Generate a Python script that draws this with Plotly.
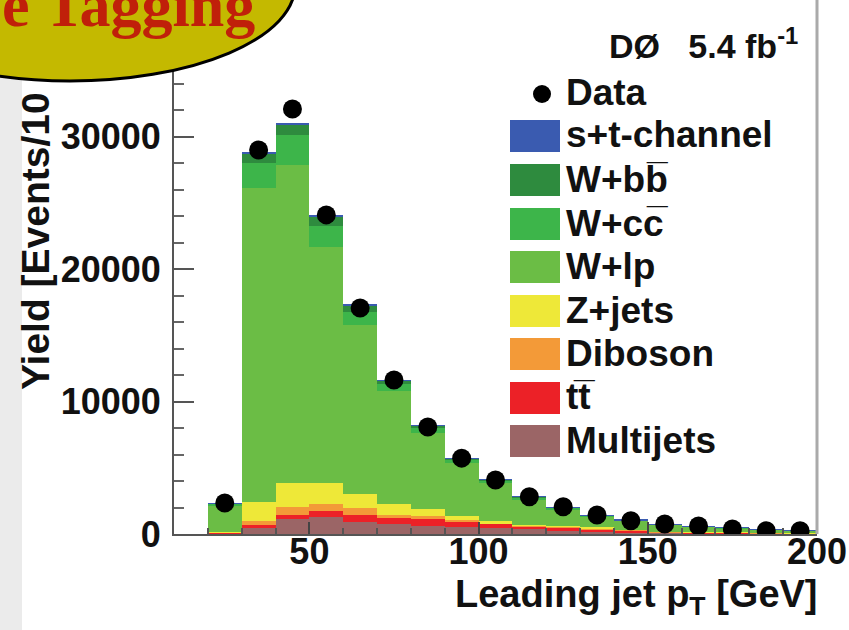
import plotly.graph_objects as go

# ---------------- data ----------------
bin_low = list(range(20, 200, 10))          # 10 GeV bins, 20..200
bin_centers = [b + 5 for b in bin_low]

data_yield = [2340, 29000, 32100, 24100, 17070, 11630, 8080, 5730, 4080,
              2820, 2060, 1435, 1000, 755, 600, 380, 250, 250]

multijets = [60, 430, 1110, 1300, 930, 730, 600, 550, 430, 355, 250, 175, 130, 90, 70, 55, 40, 30]
ttbar     = [20, 250, 325, 430, 505, 470, 585, 380, 325, 245, 250, 200, 120, 60, 50, 40, 30, 20]
diboson   = [30, 325, 627, 530, 505, 235, 150, 100, 75, 40, 30, 60, 60, 20, 15, 12, 10, 8]
zjets     = [60, 1435, 1813, 1610, 1080, 830, 530, 300, 130, 60, 40, 100, 20, 15, 10, 8, 5, 4]
wlp       = [2000, 23690, 23995, 17830, 12780, 8500, 5800, 4020, 2910, 1935, 1315, 820, 666, 520, 415, 333, 242, 172]
wcc       = [100, 1890, 2270, 1590, 1000, 560, 380, 260, 190, 125, 85, 55, 44, 34, 27, 22, 16, 11]
wbb       = [40, 680, 750, 680, 450, 230, 135, 95, 65, 45, 30, 18, 15, 12, 10, 8, 5, 4]
st_chan   = [20, 150, 150, 160, 120, 75, 50, 35, 25, 15, 10, 7, 5, 4, 3, 2, 2, 1]

x_tick_vals = [50, 100, 150, 200]
y_tick_vals = [0, 10000, 20000, 30000]
y_tick_text = ["0", "10000", "20000", "30000"]

series = [  # bottom -> top
    ("Multijets", multijets, "#9B6566"),
    ("t\u0074\u0305", ttbar, "#EC2127"),
    ("Diboson", diboson, "#F39A38"),
    ("Z+jets", zjets, "#EEE838"),
    ("W+lp", wlp, "#6BBD45"),
    ("W+c\u0063\u0305", wcc, "#3DB54A"),
    ("W+b\u0062\u0305", wbb, "#2E8B3E"),
    ("s+t-channel", st_chan, "#3A5BB0"),
]

# ---------------- geometry helpers (pixel -> paper) ----------------
W, H = 849, 630
L, R, T, B = 174, 32, 0, 96
PW, PH = W - L - R, H - T - B


def px(x):
    return (x - L) / PW


def py(y):
    return (H - B - y) / PH


fig = go.Figure()
for name, vals, col in series:
    fig.add_trace(go.Bar(x=bin_centers, y=vals, width=10, name=name,
                         marker=dict(color=col, line=dict(width=0)),
                         showlegend=False))
fig.add_trace(go.Scatter(x=bin_centers, y=data_yield, mode="markers", name="Data",
                         marker=dict(color="black", size=19), showlegend=False))

font_family = "Liberation Sans, Arial, sans-serif"

fig.update_layout(
    template="none",
    width=W, height=H,
    margin=dict(l=L, r=R, t=T, b=B, pad=0),
    barmode="stack",
    paper_bgcolor="white", plot_bgcolor="white",
    xaxis=dict(range=[10, 200], tickvals=x_tick_vals, ticks="inside", ticklen=12,
               tickwidth=2, tickcolor="#444", showline=True, linecolor="#555",
               linewidth=2, showgrid=False, zeroline=False, automargin=False,
               minor=dict(dtick=10, tick0=0, ticks="inside", ticklen=6, tickcolor="#555", tickwidth=1.5),
               tickfont=dict(family=font_family, size=36, color="#111", weight="bold"),
               ticklabelstandoff=-15),
    yaxis=dict(range=[0, 40330], tickvals=y_tick_vals, ticktext=y_tick_text,
               ticks="inside", ticklen=20, tickwidth=2, tickcolor="#555",
               showline=True, linecolor="#555", linewidth=2, showgrid=False,
               zeroline=False, automargin=False,
               minor=dict(dtick=2000, ticks="inside", ticklen=10, tickcolor="#666", tickwidth=2),
               tickfont=dict(family=font_family, size=36, color="#111", weight="bold"),
               ticklabelstandoff=4),
)

shapes = []
annotations = []

# grey slide strip at left
shapes.append(dict(type="rect", xref="paper", yref="paper", x0=px(0), x1=px(22),
                   y0=py(H), y1=py(0), fillcolor="#EBEBEB", line=dict(width=0), layer="below"))
# right frame line
shapes.append(dict(type="line", xref="paper", yref="paper", x0=1, x1=1, y0=0, y1=1,
                   line=dict(color="#AAAAAA", width=3), layer="above"))

# axis titles
annotations.append(dict(text="Leading jet p<sub>T</sub> [GeV]", xref="paper", yref="paper",
                        x=px(820), y=py(597), xanchor="right", yanchor="middle", showarrow=False,
                        font=dict(family=font_family, size=38, color="#111", weight="bold")))
annotations.append(dict(text="Yield [Events/10", xref="paper", yref="paper", textangle=-90,
                        x=px(35), y=py(392), xanchor="center", yanchor="bottom", showarrow=False,
                        font=dict(family=font_family, size=39, color="#111", weight="bold")))

# experiment label
annotations.append(dict(text="DØ\u00a0\u00a0 5.4 fb<sup>-1</sup>", xref="paper", yref="paper",
                        x=px(800), y=py(44), xanchor="right", yanchor="middle", showarrow=False,
                        font=dict(family=font_family, size=34, color="#111", weight="bold")))

# manual legend
legend_rows = [("Data", None, 94)] + [(n, c, yc) for (n, v, c), yc in
                                      zip(series[::-1], [136, 180, 224, 267, 311, 354, 398, 441])]
for name, col, yc in legend_rows:
    if col is None:
        shapes.append(dict(type="circle", xref="paper", yref="paper",
                           x0=px(533), x1=px(551), y0=py(yc + 9), y1=py(yc - 9),
                           fillcolor="black", line=dict(width=0), layer="above"))
    else:
        shapes.append(dict(type="rect", xref="paper", yref="paper",
                           x0=px(510), x1=px(560), y0=py(yc + 16), y1=py(yc - 16),
                           fillcolor=col, line=dict(width=0), layer="above"))
    annotations.append(dict(text=name, xref="paper", yref="paper", x=px(564), y=py(yc - 1),
                            xanchor="left", yanchor="middle", showarrow=False,
                            font=dict(family=font_family, size=37, color="#111", weight="bold")))

# title balloon (slide overlay)
shapes.append(dict(type="circle", xref="paper", yref="paper",
                   x0=px(-155), x1=px(295), y0=py(-110), y1=py(81),
                   fillcolor="#C4B900", line=dict(color="black", width=3), layer="above"))
annotations.append(dict(text="e Tagging", xref="paper", yref="paper", x=px(257), y=py(5),
                        xanchor="right", yanchor="middle", showarrow=False,
                        font=dict(family="Liberation Serif, Times New Roman, serif", size=62,
                                  color="#C0200A", weight="bold")))

fig.update_layout(shapes=shapes, annotations=annotations)
fig.write_html("out.html", config={"displayModeBar": False},
               post_script="document.body.style.margin='0px';")
